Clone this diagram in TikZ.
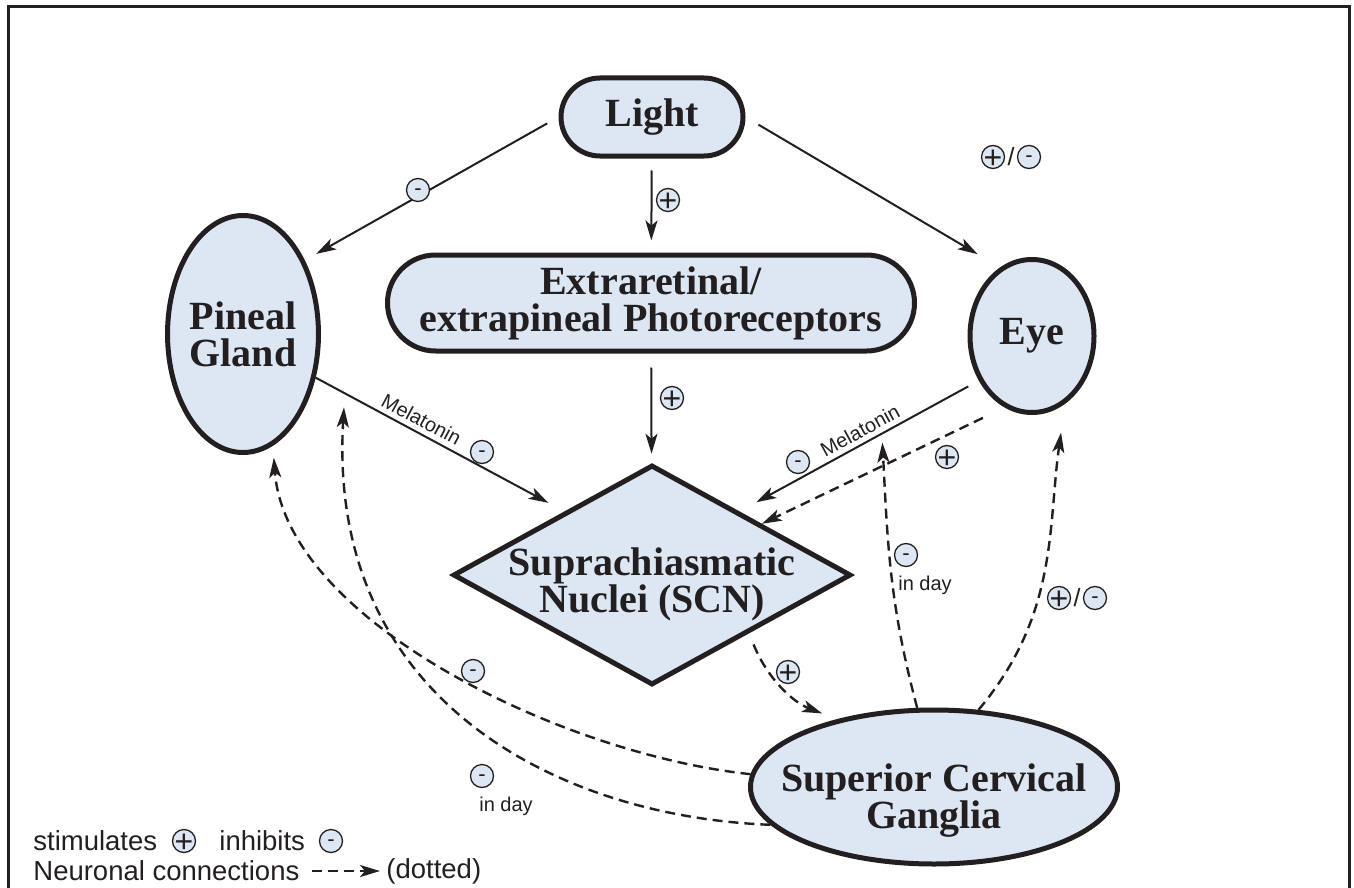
\documentclass[tikz,border=0pt]{standalone}
\usepackage{fontspec}
\setmainfont{Liberation Serif}
\setsansfont{Liberation Sans}
\usetikzlibrary{shapes.geometric,arrows.meta,positioning}

\definecolor{boxfill}{RGB}{221,231,243}
\definecolor{ink}{RGB}{35,31,32}

\tikzset{
  organ/.style={draw=ink, fill=boxfill, line width=2.5pt, inner sep=0pt, text=ink,
    font=\fontsize{20}{18.5}\selectfont\bfseries, align=center},
  oval/.style={organ, ellipse},
  pill/.style={organ, rectangle, rounded corners=#1},
  txt/.style={text=ink, inner sep=0pt, font=\fontsize{20}{18.5}\selectfont\bfseries, align=center},
  arr/.style={draw=ink, line width=1pt, -{Stealth[length=10pt,width=6pt,inset=2.5pt]}},
  nerve/.style={arr, line width=1.2pt, dash pattern=on 5pt off 3pt},
  sgn/.style={circle, draw=ink, fill=boxfill, line width=0.65pt, minimum size=11.5pt,
    inner sep=0pt, text=ink, text depth=0pt},
  pl/.style={sgn, font=\sffamily\fontsize{16}{16}\selectfont, text height=11.2pt},
  mi/.style={sgn, font=\sffamily\fontsize{11}{11}\selectfont, text height=5.8pt},
  lbl/.style={text=ink, font=\sffamily\fontsize{10}{12}\selectfont, inner sep=2.5pt},
  leg/.style={text=ink, font=\sffamily\fontsize{13.75}{16}\selectfont, inner sep=0pt},
  slash/.style={text=ink, font=\sffamily\fontsize{12.5}{14}\selectfont, inner sep=0pt}
}

\begin{document}
\begin{tikzpicture}[x=0.5pt, y=-0.5pt]
%\draw[help lines] (0,0) grid[step=50] (1354,888);
\useasboundingbox (0,0) rectangle (1354,888);
\draw[ink, line width=1.5pt] (8,7) rectangle (1349,900);

\node[pill=19.5pt, minimum width=91pt, minimum height=39pt] (light) at (652,117) {Light};
\node[pill=24pt, minimum width=263.5pt, minimum height=48pt] (extra) at (651,303) {Extraretinal/\\extrapineal Photoreceptors};
\node[oval, minimum width=73pt, minimum height=118.5pt] (pineal) at (243,334) {Pineal\\Gland};
\node[oval, minimum width=62pt, minimum height=76.5pt] (eye) at (1032,336) {Eye};
\node[organ, diamond, minimum width=199pt, minimum height=110pt] (scn) at (652,575) {};
\node[txt] (scntxt) at (652,584) {Suprachiasmatic\\Nuclei (SCN)};
\node[oval, minimum width=183.5pt, minimum height=77pt] (scg) at (934,787) {};
\node[txt] (scgtxt) at (934,801) {Superior Cervical\\Ganglia};

% light
\draw[arr, shorten <=6.5pt, shorten >=6.5pt] (light.west) -- (pineal.50);
\draw[arr, shorten <=7.5pt, shorten >=13pt] (light.east) -- (eye.115);
\draw[arr, shorten <=6pt, shorten >=6pt] (light) -- (extra);
\draw[arr, shorten <=7pt, shorten >=4.5pt] (extra) -- (scn);

% melatonin
\draw[arr, shorten >=9pt] (pineal.-31) -- (scn.144)
  node[lbl, sloped, above, pos=0.40] (mel1) {Melatonin}
  coordinate[pos=0.117] (pinmel);
\draw[arr, shorten <=6pt, shorten >=9.5pt] (eye.220) -- (scn.36)
  node[lbl, sloped, above, pos=0.47] (mel2) {Melatonin}
  coordinate[pos=0.405] (eyemel);
\draw[nerve, shorten <=12pt] (eye.249) -- (scn.25.5);

% neuronal
\draw[nerve, shorten <=6pt, shorten >=8pt] (scn.-31) to[out=-68, in=159] (scg.145);
\draw[nerve, shorten >=4.5pt] (scg.102) to[out=105, in=-87] (eyemel);
\draw[nerve, shorten >=14.5pt] (scg.60) to[out=50, in=-98] (eye.-64);
\draw[nerve, shorten >=6pt] (scg.176) .. controls +(-190,-20) and +(13,174) .. (pineal.-75);
\draw[nerve, shorten >=7pt] (scg.193) .. controls +(-212,-8) and +(-18,307) .. (pinmel);

% signs
\node[mi] (s1) at (418,190) {\makebox[0pt]{-}};
\node[pl] (s2) at (668,200) {\makebox[0pt]{+}};
\node[pl] (s3) at (993,157) {\makebox[0pt]{+}};
\node[slash] (sl1) at (1011,157) {/};
\node[mi] (s4) at (1029,157) {\makebox[0pt]{-}};
\node[pl] (s5) at (672,398) {\makebox[0pt]{+}};
\node[mi] (s6) at (482,452) {\makebox[0pt]{-}};
\node[mi] (s7) at (798,462) {\makebox[0pt]{-}};
\node[pl] (s8) at (947,457) {\makebox[0pt]{+}};
\node[mi] (s9) at (906,555) {\makebox[0pt]{-}};
\node[lbl] (day1) at (925,585) {in day};
\node[pl] (s10) at (1059,598) {\makebox[0pt]{+}};
\node[slash] (sl2) at (1077,598) {/};
\node[mi] (s11) at (1095,598) {\makebox[0pt]{-}};
\node[pl] (s12) at (788,672) {\makebox[0pt]{+}};
\node[mi] (s13) at (473,671) {\makebox[0pt]{-}};
\node[mi] (s14) at (482,776) {\makebox[0pt]{-}};
\node[lbl] (day2) at (506,806) {in day};

% legend
\node[leg, anchor=west] (stim) at (33,841) {stimulates};
\node[pl] (lp) at (184,841) {\makebox[0pt]{+}};
\node[leg, anchor=west] (inh) at (219,841) {inhibits};
\node[mi] (lm) at (331,841) {\makebox[0pt]{-}};
\node[leg, anchor=west] (neur) at (33,871) {Neuronal connections};
\node[leg, anchor=west] (dott) at (386,871) {(dotted)};
\draw[nerve, shorten <=6pt, shorten >=3pt] (neur.east) -- (dott.west);
\end{tikzpicture}
\end{document}
